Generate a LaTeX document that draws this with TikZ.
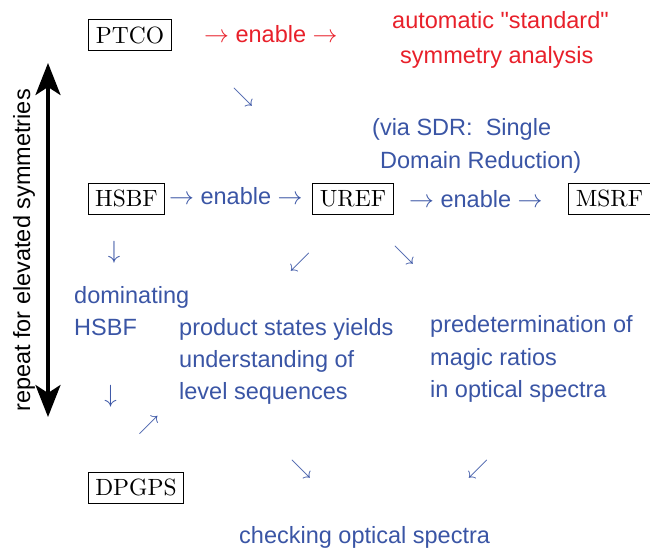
\documentclass[tikz,border=0pt]{standalone}
\usepackage{fontspec}
\setmainfont{Liberation Sans}[Ligatures=TeXOff]
\newfontfamily\lmfont{lmroman10-regular}[Extension=.otf]
\usetikzlibrary{arrows.meta}
\definecolor{dblue}{RGB}{58,85,165}
\definecolor{dred}{RGB}{232,32,42}
\begin{document}
\begin{tikzpicture}[x=1pt,y=-1pt,
  every node/.style={inner sep=0pt, font=\fontsize{23.5}{32.4}\selectfont},
  box/.style={draw, line width=0.8pt, font=\lmfont\fontsize{23.5}{28}\selectfont,
    inner xsep=7pt, inner ysep=7.5pt, text height=16.2pt, text depth=0pt},
  bl/.style={text=dblue, anchor=base west},
  rd/.style={text=dred, anchor=base west},
  gly/.style={text=dblue},
  dgly/.style={text=dblue, font=\fontsize{22}{24}\selectfont},
  dbl/.style={line width=3.5pt, {Stealth[length=32pt,width=25pt,inset=8pt]}-{Stealth[length=32pt,width=25pt,inset=8pt]}}]
\useasboundingbox (0,0) rectangle (650,547);
% top row
\node[box] (ptco) at (130,35) {PTCO};
\node[rd] (en1) at (204,42) {$\rightarrow$ enable $\rightarrow$};
\node[rd] (auto1) at (392,28) {automatic "standard"};
\node[rd] (auto2) at (400,63) {symmetry analysis};
\node[dgly] (a1) at (243,97) {$\searrow$};
\node[bl] (via1) at (372,135) {(via SDR:\ \ Single};
\node[bl] (via2) at (380,168) {Domain Reduction)};
% middle row
\node[box] (hsbf) at (126.5,198.5) {HSBF};
\node[bl] (en2) at (169,204) {$\rightarrow$ enable $\rightarrow$};
\node[box] (uref) at (353,198.5) {UREF};
\node[bl] (en3) at (409,207) {$\rightarrow$ enable $\rightarrow$};
\node[box] (msrf) at (609.5,198.5) {MSRF};
% glyph arrows
\node[gly] (a2) at (114,252) {$\downarrow$};
\node[dgly] (a3) at (300,262) {$\swarrow$};
\node[dgly] (a4) at (404,255) {$\searrow$};
\node[gly] (a5) at (110.5,396) {$\downarrow$};
\node[dgly] (a6) at (148.5,425) {$\nearrow$};
\node[dgly] (a7) at (301,469) {$\searrow$};
\node[dgly] (a8) at (478,469) {$\swarrow$};
% text blocks
\node[bl] (dom1) at (74,303) {dominating};
\node[bl] (dom2) at (74,335) {HSBF};
\node[bl] (pr1) at (179,335) {product states yields};
\node[bl] (pr2) at (179,367) {understanding of};
\node[bl] (pr3) at (179,399) {level sequences};
\node[bl] (pd1) at (430,332) {predetermination of};
\node[bl] (pd2) at (430,365) {magic ratios};
\node[bl] (pd3) at (430,397) {in optical spectra};
\node[box] (dpgps) at (136,487.5) {DPGPS};
\node[bl] (chk) at (239,543) {checking optical spectra};
% repeat arrow
\coordinate (rt) at (48,63);
\coordinate (rb) at (48,417);
\draw[dbl] (rt) -- (rb);
\node[anchor=base west, rotate=90] (rep) at (30,412) {repeat for elevated symmetries};
\end{tikzpicture}
\end{document}
